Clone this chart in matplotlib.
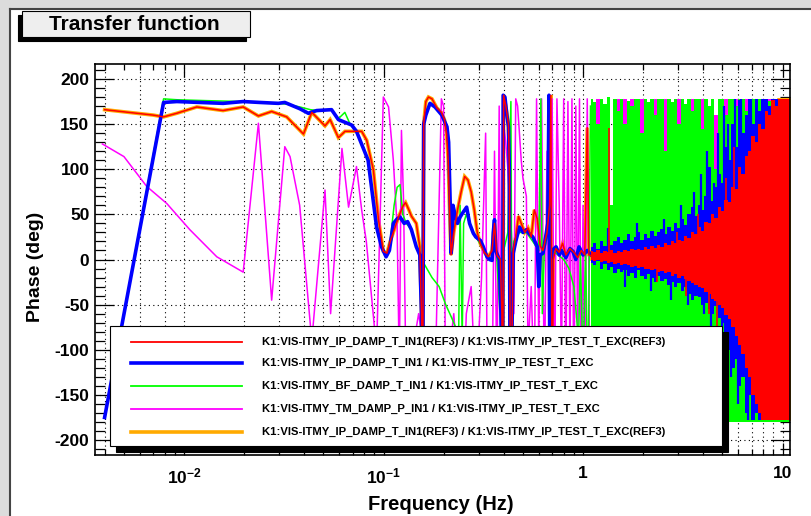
import matplotlib
matplotlib.use('Agg')
import matplotlib.pyplot as plt
from matplotlib.patches import Rectangle
from matplotlib.lines import Line2D
from matplotlib.ticker import FixedLocator, FixedFormatter, NullFormatter

plt.rcParams['font.family'] = ['Liberation Sans', 'DejaVu Sans']
plt.rcParams['mathtext.fontset'] = 'custom'
plt.rcParams['mathtext.rm'] = 'Liberation Sans:bold'
plt.rcParams['mathtext.bf'] = 'Liberation Sans:bold'
plt.rcParams['mathtext.it'] = 'Liberation Sans:bold'

# ---------------- data ----------------
legend_labels = [
    "K1:VIS-ITMY_IP_DAMP_T_IN1(REF3) / K1:VIS-ITMY_IP_TEST_T_EXC(REF3)",
    "K1:VIS-ITMY_IP_DAMP_T_IN1 / K1:VIS-ITMY_IP_TEST_T_EXC",
    "K1:VIS-ITMY_BF_DAMP_T_IN1 / K1:VIS-ITMY_IP_TEST_T_EXC",
    "K1:VIS-ITMY_TM_DAMP_P_IN1 / K1:VIS-ITMY_IP_TEST_T_EXC",
    "K1:VIS-ITMY_IP_DAMP_T_IN1(REF3) / K1:VIS-ITMY_IP_TEST_T_EXC(REF3)",
]
y_ticks = [-200, -150, -100, -50, 0, 50, 100, 150, 200]
x_major = [0.01, 0.1, 1, 10]
x_major_labels = [r'$\mathbf{10^{-2}}$', r'$\mathbf{10^{-1}}$', '1', '10']

# low-frequency part (single traces)
ref3_f = [0.0040, 0.0070, 0.0079, 0.0092, 0.0116, 0.0157, 0.0198, 0.0236, 0.0275, 0.0327,
          0.0397, 0.0437, 0.0509, 0.0540, 0.0594, 0.0641, 0.0777, 0.0824, 0.0890, 0.0944,
          0.0998, 0.104, 0.108, 0.112, 0.118, 0.125, 0.129, 0.134, 0.138, 0.146,
          0.152, 0.155, 0.157, 0.159, 0.163, 0.168, 0.175, 0.185, 0.195, 0.202,
          0.207, 0.211, 0.214, 0.218, 0.225, 0.235, 0.245, 0.255, 0.265, 0.275,
          0.285, 0.295, 0.305, 0.32, 0.335, 0.35, 0.36, 0.37, 0.385, 0.392,
          0.396, 0.400, 0.410, 0.423, 0.428, 0.433, 0.447, 0.46, 0.475, 0.49,
          0.51, 0.53, 0.55, 0.57, 0.59, 0.61, 0.63, 0.66, 0.68, 0.69,
          0.70, 0.71, 0.73, 0.76, 0.79, 0.82, 0.86, 0.90, 0.94, 0.98,
          1.02, 1.05, 1.07, 1.10]
ref3_ph = [166, 160, 158, 162, 169, 165, 169, 159, 164, 158,
           139, 163, 148, 155, 135, 142, 142, 132, 99, 44,
           9, 7, 20, 30, 45, 59, 63, 55, 48, 40,
           14, -60, -190, 150, 175, 180, 178, 168, 163, 155,
           140, 110, 60, 5, 30, 55, 75, 92, 88, 75,
           55, 30, 18, 8, 3, 10, 40, 5, 0, -60,
           -190, 182, 170, 150, 90, -190, 10, 25, 48, 40,
           30, 35, 25, 55, 45, 15, 10, 30, 60, 182,
           -190, 0, 12, 8, 18, 5, 12, 8, 2, 10,
           5, 146, 5, 4]

blue_f = [0.0040, 0.0079, 0.0092, 0.0157, 0.0198, 0.0240, 0.0297, 0.0320, 0.0381, 0.0420,
          0.0462, 0.0549, 0.0594, 0.0692, 0.0732, 0.0837, 0.0923, 0.0977, 0.103, 0.107,
          0.112, 0.117, 0.121, 0.127, 0.132, 0.138, 0.146, 0.152, 0.155, 0.157,
          0.159, 0.163, 0.171, 0.181, 0.196, 0.208, 0.212, 0.216, 0.218, 0.221,
          0.223, 0.228, 0.235, 0.242, 0.250, 0.261, 0.270, 0.282, 0.290, 0.306,
          0.315, 0.330, 0.340, 0.350, 0.355, 0.360, 0.365, 0.380, 0.388, 0.395,
          0.398, 0.406, 0.415, 0.423, 0.427, 0.432, 0.447, 0.46, 0.48, 0.50,
          0.52, 0.54, 0.56, 0.59, 0.60, 0.61, 0.63, 0.65, 0.666, 0.675,
          0.683, 0.69, 0.70, 0.733, 0.76, 0.78, 0.82, 0.86, 0.89, 0.92,
          0.955, 1.00, 1.05, 1.10]
blue_ph = [-175, 174, 175, 173, 175, 174, 173, 174, 167, 162,
           165, 166, 155, 149, 142, 110, 36, 14, 3, 10,
           40, 45, 47, 40, 42, 33, 14, 5, -60, -190,
           150, 160, 173, 169, 160, 147, 130, 60, 7, 20,
           60, 50, 40, 47, 52, 58, 40, 29, 25, 21,
           15, 3, 0, -1, 30, 44, 10, 0, -60, -190,
           182, 180, 160, 147, 100, -190, 7, 20, 36, 30,
           33, 28, 25, 14, -30, 5, 7, 25, 40, 182,
           -190, -20, 10, 14, 5, 10, 2, 12, 9, 0,
           14, 5, 10, 5]

green_f = [0.0040, 0.0079, 0.0092, 0.0130, 0.0198, 0.0240, 0.0297, 0.0330, 0.0381, 0.0430,
           0.0470, 0.0549, 0.0594, 0.0640, 0.0680, 0.0732, 0.0837, 0.0923, 0.0977, 0.103,
           0.108, 0.113, 0.117, 0.121, 0.125, 0.130, 0.138, 0.146, 0.152, 0.160,
           0.175, 0.190, 0.205, 0.220, 0.235, 0.238, 0.242, 0.248, 0.252, 0.26,
           0.28, 0.30, 0.33, 0.35, 0.36, 0.37, 0.39, 0.40, 0.42, 0.435,
           0.44, 0.45, 0.48, 0.52, 0.56, 0.60, 0.615, 0.625, 0.64, 0.67,
           0.70, 0.75, 0.80, 0.85, 0.90, 0.95, 0.97, 1.00, 1.03, 1.06,
           1.09]
green_ph = [-175, 178, 177, 176, 175, 174, 173, 172, 169, 166,
            165, 166, 156, 163, 150, 142, 110, 36, 14, 3,
            20, 60, 80, 83, 50, 40, 33, 14, 5, -5,
            -20, -30, -50, -65, -80, -85, 60, -90, 40, 50,
            30, 20, 5, 0, 45, 0, -90, 10, 30, 175,
            -100, 20, 30, 30, 20, 10, 178, -60, 10, 30,
            10, 5, 0, -10, -30, -90, 5, -120, 10, -150,
            170]

mag_f = [0.0039, 0.0050, 0.0065, 0.0082, 0.0107, 0.0146, 0.0198, 0.0236, 0.0275, 0.0320,
         0.0340, 0.0380, 0.0437, 0.0509, 0.0543, 0.0619, 0.0668, 0.0732, 0.0777, 0.0820,
         0.0923, 0.0998, 0.106, 0.112, 0.117, 0.120, 0.123, 0.126, 0.130, 0.135,
         0.140, 0.150, 0.165, 0.180, 0.195, 0.200, 0.205, 0.215, 0.225, 0.235,
         0.250, 0.260, 0.275, 0.290, 0.310, 0.325, 0.330, 0.350, 0.360, 0.370,
         0.380, 0.390, 0.400, 0.410, 0.420, 0.430, 0.440, 0.450, 0.460, 0.470,
         0.480, 0.490, 0.500, 0.510, 0.520, 0.530, 0.550, 0.570, 0.585, 0.600,
         0.620, 0.640, 0.660, 0.680, 0.700, 0.720, 0.740, 0.760, 0.780, 0.800,
         0.820, 0.840, 0.860, 0.880, 0.900, 0.920, 0.940, 0.960, 0.980, 1.000,
         1.020, 1.050, 1.080]
mag_ph = [128, 114, 81, 62, 33, 3, -14, 151, -45, 125,
          114, 60, -90, 77, -60, 123, 58, 103, 55, 20,
          -100, 180, 169, 110, 36, -120, 143, 66, -150, -150,
          -100, -60, -120, -170, 178, 170, -170, -100, -60, -120,
          -170, -60, -30, -150, -20, 140, -100, -160, 120, -150,
          170, -180, 150, 130, 100, 60, 20, -60, 178, 170,
          140, 110, 90, 80, 70, -100, -30, -150, 178, -100,
          178, -150, 120, -170, 178, -160, 178, 60, -120, 178,
          -150, 175, -120, 178, -180, 170, -100, 178, -170, 60,
          -150, 178, -120]

# high-frequency part (dense noisy region, read as envelopes)
hf_f = [1.10, 1.14, 1.19, 1.24, 1.29, 1.34, 1.39, 1.45, 1.50, 1.56,
        1.62, 1.69, 1.76, 1.83, 1.90, 1.97, 2.05, 2.13, 2.22, 2.31,
        2.40, 2.49, 2.59, 2.69, 2.80, 2.91, 3.03, 3.15, 3.27, 3.40,
        3.54, 3.68, 3.82, 3.97, 4.13, 4.29, 4.46, 4.64, 4.82, 5.01,
        5.21, 5.42, 5.63, 5.86, 6.09, 6.33, 6.58, 6.84, 7.11, 7.39,
        7.68, 7.99, 8.30, 8.63, 8.97, 9.33, 9.70, 10.08, 10.48, 10.90]
green_hi = [178, 175, 150, 178, 172, 180, 60, 178, 165, 178,
            150, 176, 170, 178, 178, 140, 178, 175, 178, 160,
            178, 178, 120, 178, 175, 178, 150, 178, 172, 178,
            165, 178, 178, 145, 178, 170, 178, 100, 178, 178,
            160, 178, 178, 170, 178, 178, 165, 178, 178, 172,
            178, 178, 178, 176, 178, 178, 178, 178, 175, 178]
green_lo = [-180, -180, -180, -180, -180, -180, -180, -180, -180, -180,
            -180, -180, -180, -180, -180, -180, -180, -180, -180, -180,
            -180, -180, -180, -180, -180, -180, -180, -180, -180, -180,
            -180, -180, -180, -180, -180, -180, -180, -180, -180, -180,
            -180, -180, -180, -180, -180, -180, -180, -180, -180, -180,
            -180, -180, -180, -180, -180, -180, -180, -180, -180, -180]
mag_hi = [178, 150, 178, 160, 120, 178, 50, 150, 178, 140,
          178, 120, 178, 150, 130, 178, 150, 140, 120, 178,
          150, 120, 178, 130, 150, 120, 178, 140, 130, 120,
          178, 150, 130, 178, 140, 160, 130, 160, 150, 140,
          178, 150, 140, 178, 160, 140, 178, 150, 150, 160,
          150, 140, 150, 178, 160, 150, 140, 150, 178, 160]
blue_hi = [14, 18, 12, 20, 15, 22, 16, 20, 25, 18,
           22, 28, 20, 25, 30, 22, 28, 24, 32, 26,
           30, 34, 28, 36, 32, 40, 35, 45, 38, 50,
           58, 48, 60, 55, 70, 103, 65, 80, 95, 85,
           125, 110, 150, 125, 177, 140, 160, 178, 150, 178,
           165, 178, 178, 170, 178, 178, 178, 178, 178, 178]
blue_lo = [-4, -6, -2, -10, -5, -12, -8, -15, -10, -14,
           -12, -18, -15, -20, -12, -18, -22, -16, -20, -25,
           -18, -24, -22, -28, -25, -30, -26, -35, -30, -38,
           -45, -40, -42, -50, -48, -55, -60, -52, -65, -70,
           -80, -100, -120, -110, -140, -130, -170, -150, -178, -170,
           -178, -160, -178, -175, -178, -170, -178, -178, -178, -178]
ref3_hi = [9, 8, 10, 7, 9, 8, 10, 7, 9, 8,
           10, 9, 12, 10, 12, 11, 14, 12, 15, 13,
           16, 14, 18, 16, 20, 18, 22, 20, 26, 24,
           30, 28, 36, 32, 42, 40, 50, 46, 58, 54,
           66, 64, 80, 78, 103, 95, 115, 120, 137, 130,
           150, 145, 165, 160, 177, 170, 178, 178, 178, 178]
ref3_lo = [0, -2, 0, -3, -2, -4, -3, -5, -4, -6,
           -5, -6, -8, -7, -9, -8, -10, -10, -12, -11,
           -14, -13, -15, -14, -18, -16, -20, -18, -22, -24,
           -26, -28, -30, -32, -36, -38, -44, -46, -50, -54,
           -62, -66, -75, -85, -95, -105, -120, -130, -150, -160,
           -170, -178, -178, -178, -178, -178, -178, -178, -178, -178]

# isolated spikes sticking out of the noisy bands
blue_spk_f = [1.33, 1.62, 1.87, 2.20, 2.55, 2.75, 3.10, 3.35, 3.60, 3.90,
              4.05, 4.20, 4.40, 4.55, 4.75, 4.95, 5.10, 5.30, 5.50, 5.75,
              6.00, 6.20, 6.45, 6.70, 6.95]
blue_spk_ph = [35, -30, 40, -35, 45, -45, 60, -50, 75, 95,
               -60, 120, -75, 85, 140, -80, 170, 150, -130, 178,
               -160, 178, 120, -178, 178]
ref3_spk_f = [1.35, 2.35, 2.95, 3.30, 3.75, 4.30, 4.70, 5.20, 5.70]
ref3_spk_ph = [146, -25, 30, -40, 50, -60, -80, 90, 125]

# ---------------- figure ----------------
W, H = 812, 516
fig = plt.figure(figsize=(W / 100, H / 100), dpi=100)
fig.patch.set_facecolor('white')


def fx(x):
    return x / W


def fy(y):
    return 1 - y / H


def frect(x0, y0, x1, y1, **kw):
    r = Rectangle((fx(x0), fy(y1)), fx(x1) - fx(x0), fy(y0) - fy(y1),
                  transform=fig.transFigure, **kw)
    fig.add_artist(r)
    return r


# canvas border
frect(0, 0, W, 8, facecolor='#dcdcdc', edgecolor='none', zorder=0)
frect(0, 0, 10, H, facecolor='#dcdcdc', edgecolor='none', zorder=0)
fig.add_artist(Line2D([fx(10), fx(W)], [fy(9), fy(9)], transform=fig.transFigure,
                      color='#444444', lw=1.5, zorder=0.5))
fig.add_artist(Line2D([fx(10), fx(10)], [fy(9), fy(H)], transform=fig.transFigure,
                      color='#444444', lw=1.5, zorder=0.5))

ax = fig.add_axes([fx(95), fy(455), fx(790) - fx(95), fy(64) - fy(455)])
ax.set_xscale('log')
ax.set_xlim(0.00358, 10.9)
ax.set_ylim(-216.6, 216.6)

RED, BLUE, GREEN, MAG, ORANGE = '#ff0000', '#0000ff', '#00ff00', '#ff00ff', '#ffaa00'
thin, thick = 1.1, 2.6

# grid (dotted, ROOT style) drawn below the data
grid_style = dict(color='black', linestyle=(0, (1, 3)), lw=0.8, zorder=1)
for yv in y_ticks:
    ax.axhline(yv, **grid_style)
grid_x = [0.004, 0.006, 0.008]
for dec in [0.01, 0.1, 1]:
    grid_x += [k * dec for k in range(1, 10)]
grid_x.append(10)
for xv in grid_x:
    ax.axvline(xv, **grid_style)

# orange (REF3, thick) under everything
ax.plot(ref3_f, ref3_ph, color=ORANGE, lw=thick, zorder=2.0, solid_joinstyle='miter')
ax.fill_between(hf_f, ref3_lo, ref3_hi, step='mid', color=ORANGE, lw=1.5, zorder=2.0)
# magenta
ax.fill_between(hf_f, green_lo, mag_hi, step='mid', color=MAG, lw=0, zorder=2.1)
ax.plot(mag_f, mag_ph, color=MAG, lw=thin, zorder=2.2)
# green
ax.fill_between(hf_f, green_lo, green_hi, step='mid', color=GREEN, lw=0, zorder=2.3)
ax.plot(green_f, green_ph, color=GREEN, lw=thin, zorder=2.4)
# blue
ax.fill_between(hf_f, blue_lo, blue_hi, step='mid', color=BLUE, lw=0, zorder=2.5)
ax.vlines(blue_spk_f, 0, blue_spk_ph, color=BLUE, lw=1.6, zorder=2.55)
ax.plot(blue_f, blue_ph, color=BLUE, lw=thick, zorder=2.6)
# red
ax.fill_between(hf_f, ref3_lo, ref3_hi, step='mid', color=RED, lw=0, zorder=2.7)
ax.vlines(ref3_spk_f, 0, ref3_spk_ph, color=RED, lw=1.2, zorder=2.75)
ax.plot(ref3_f, ref3_ph, color=RED, lw=thin, zorder=2.8)

# axes styling
for s in ax.spines.values():
    s.set_linewidth(1.2)
    s.set_zorder(5)
ax.yaxis.set_major_locator(FixedLocator(y_ticks))
ax.yaxis.set_minor_locator(FixedLocator(list(range(-210, 211, 10))))
ax.yaxis.set_major_formatter(FixedFormatter([str(v) for v in y_ticks]))
minors = []
for dec in [0.001, 0.01, 0.1, 1]:
    for k in range(2, 10):
        v = k * dec
        if 0.00358 <= v <= 10.9:
            minors.append(v)
ax.xaxis.set_major_locator(FixedLocator(x_major))
ax.xaxis.set_major_formatter(FixedFormatter(x_major_labels))
ax.xaxis.set_minor_locator(FixedLocator(minors))
ax.xaxis.set_minor_formatter(NullFormatter())

ax.tick_params(axis='both', which='both', direction='in', top=True, right=True,
               width=0.9, color='black')
ax.tick_params(axis='y', which='major', length=14, pad=4, labelsize=12.5)
ax.tick_params(axis='y', which='minor', length=7)
ax.tick_params(axis='x', which='major', length=9, pad=8, labelsize=12.5)
ax.tick_params(axis='x', which='minor', length=4.5)
for lab in ax.get_yticklabels() + ax.get_xticklabels():
    lab.set_fontweight('bold')

# axis titles
fig.text(fx(441), fy(505), 'Frequency (Hz)', ha='center', va='center',
         fontsize=14.5, fontweight='bold')
fig.text(fx(36), fy(267), 'Phase (deg)', ha='center', va='center', rotation=90,
         fontsize=14, fontweight='bold')

# title box
frect(18, 15, 246, 41, facecolor='black', edgecolor='black', lw=0.8, zorder=6)
frect(22, 11, 250, 37, facecolor='#eeeeee', edgecolor='black', lw=0.8, zorder=6.1)
fig.text(fx(134), fy(24.5), 'Transfer function', ha='center', va='center',
         fontsize=15, fontweight='bold', zorder=6.2)

# legend
frect(116, 332, 728, 452, facecolor='black', edgecolor='black', lw=0.8, zorder=6)
frect(110, 326, 722, 446, facecolor='white', edgecolor='black', lw=0.8, zorder=6.1)
leg_colors = [RED, BLUE, GREEN, MAG, ORANGE]
leg_widths = [1.3, thick, 1.3, 1.3, thick]
leg_y = [342, 363, 386, 409, 432]
for lab, c, w, yy in zip(legend_labels, leg_colors, leg_widths, leg_y):
    fig.add_artist(Line2D([fx(131), fx(242)], [fy(yy), fy(yy)], transform=fig.transFigure,
                          color=c, lw=w, zorder=6.2))
    fig.text(fx(262), fy(yy), lab, ha='left', va='center', fontsize=8.1,
             fontweight='bold', zorder=6.3)

fig.savefig('out.png', dpi=100)
